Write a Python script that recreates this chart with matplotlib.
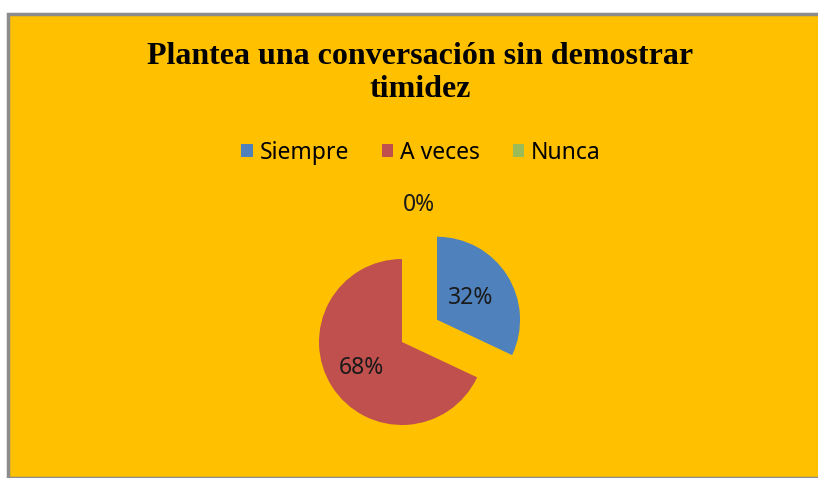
import numpy as np
import matplotlib
matplotlib.use("Agg")
import matplotlib.pyplot as plt
from matplotlib.patches import Rectangle

# data
categories = ["Siempre", "A veces", "Nunca"]
percentages = [32, 68, 0]
colors = ["#4F81BD", "#C0504D", "#9BBB59"]
title = "Plantea una conversación sin demostrar\ntimidez"

W, H = 818, 478
fig = plt.figure(figsize=(W / 100, H / 100), dpi=100)
fig.patch.set_facecolor("white")

# chart area box (orange background with gray border)
fig.patches.append(Rectangle((8 / W, 0), 1.0, (H - 14) / H, transform=fig.transFigure,
                             facecolor="#FFC000", edgecolor="#8C8C8C", linewidth=2.5, zorder=-5))

fig.text(420 / W, 1 - 73 / H, title, ha="center", va="center", fontsize=23,
         fontweight="bold", family="Liberation Serif", linespacing=1.2)

# pie axes, data unit = 83 px
r_px = 83
lim = 1.6
cx, cy = 402, H - 342
size = 2 * lim * r_px
ax = fig.add_axes([(cx - size / 2) / W, (cy - size / 2) / H, size / W, size / H])
ax.set_zorder(2)
wedges, _ = ax.pie(percentages, colors=colors, startangle=90, counterclock=False,
                   explode=[0.5, 0, 0], wedgeprops=dict(linewidth=0))
ax.set_xlim(-lim, lim)
ax.set_ylim(-lim, lim)
ax.set_aspect("equal")
ax.axis("off")

# percentage labels
for w, p in zip(wedges, percentages):
    mid = np.deg2rad((w.theta1 + w.theta2) / 2)
    ox, oy = w.center
    if p == 0:
        d = 1.66
        mid = np.deg2rad(83)
    elif p < 50:
        d = 0.48
    else:
        d = 0.58
    ax.text(ox + d * np.cos(mid), oy + d * np.sin(mid), f"{p}%", ha="center", va="center",
            fontsize=16.5, color="#1a1a1a", family="Noto Sans")

handles = [Rectangle((0, 0), 1, 1, facecolor=c) for c in colors]
fig.legend(handles, categories, loc="center", bbox_to_anchor=(421 / W, 1 - 153 / H), ncol=3,
           frameon=False, prop=dict(family="Noto Sans", size=16.5), handlelength=0.5,
           handleheight=0.5, handletextpad=0.28, columnspacing=1.45)

fig.savefig("out.png", dpi=100, facecolor="white")
